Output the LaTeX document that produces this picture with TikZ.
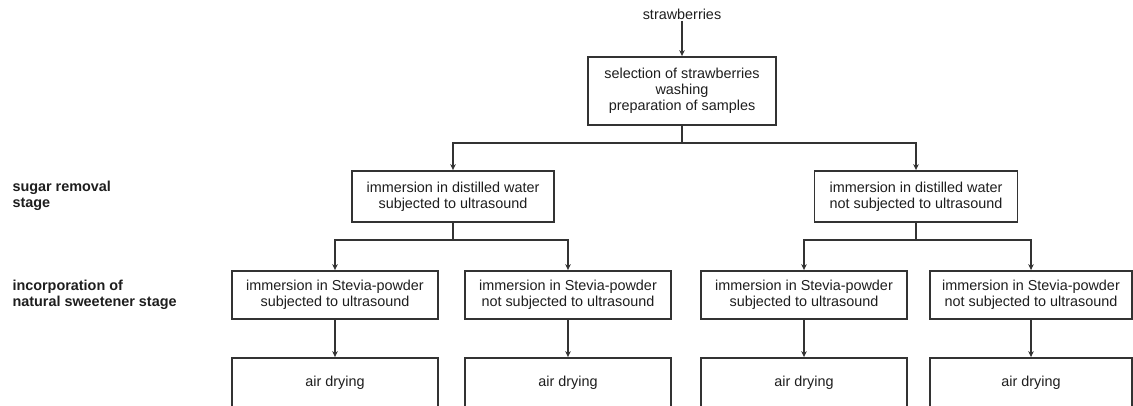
\documentclass[tikz,border=0pt]{standalone}
\usepackage{fontspec}
\setmainfont{Liberation Sans}
\usetikzlibrary{arrows.meta}
\definecolor{ln}{HTML}{333333}
\definecolor{tx}{HTML}{1E1E1E}
\tikzset{
  box/.style={draw=ln, line width=1.8pt, fill=white, align=center, text=tx,
    font=\fontsize{14.4}{16}\selectfont, inner sep=0pt, minimum width=206pt, minimum height=48pt},
  dry/.style={box, minimum height=56pt},
  conn/.style={draw=ln, line width=1.8pt},
  arr/.style={conn, -{Stealth[length=6pt,width=5.5pt]}},
  stagelabel/.style={anchor=west, align=left, text=tx, font=\fontsize{14.4}{16}\selectfont\bfseries},
}
\begin{document}
\begin{tikzpicture}[x=1pt,y=-1pt]
\useasboundingbox (0,0) rectangle (1133,405);
\clip (0,0) rectangle (1133,405);
\node[text=tx, font=\fontsize{14.4}{16}\selectfont, inner sep=2pt] (straw) at (682,14) {strawberries};
\node[box, minimum width=188pt, minimum height=68pt] (top) at (682,91)
  {selection of strawberries\\washing\\preparation of samples};
\node[box, minimum width=202pt, minimum height=51pt] (sugL) at (453,196.5)
  {immersion in distilled water\\subjected to ultrasound};
\node[box, minimum width=203pt, minimum height=51pt] (sugR) at (916,196.5)
  {immersion in distilled water\\not subjected to ultrasound};
\node[stagelabel] (lab1) at (9,196) {sugar removal\\stage};
\node[stagelabel] (lab2) at (9,295) {incorporation of\\natural sweetener stage};
\node[box] (b1) at (335,295) {immersion in Stevia-powder\\subjected to ultrasound};
\node[box] (b2) at (568,295) {immersion in Stevia-powder\\not subjected to ultrasound};
\node[box] (b3) at (804,295) {immersion in Stevia-powder\\subjected to ultrasound};
\node[box, minimum width=202pt] (b4) at (1031,295) {immersion in Stevia-powder\\not subjected to ultrasound};
\node[dry] (d1) at (335,386) {\raisebox{9pt}{air drying}};
\node[dry] (d2) at (568,386) {\raisebox{9pt}{air drying}};
\node[dry] (d3) at (804,386) {\raisebox{9pt}{air drying}};
\node[dry, minimum width=202pt] (d4) at (1031,386) {\raisebox{9pt}{air drying}};
\coordinate (j0) at (682,143);
\coordinate (j1) at (453,240);
\coordinate (j2) at (916,240);
\draw[arr] (straw.south) -- (top.north);
\draw[conn] (top.south) -- (j0);
\draw[arr] (j0) -| (sugL.north);
\draw[arr] (j0) -| (sugR.north);
\draw[conn] (sugL.south) -- (j1);
\draw[arr] (j1) -| (b1.north);
\draw[arr] (j1) -| (b2.north);
\draw[conn] (sugR.south) -- (j2);
\draw[arr] (j2) -| (b3.north);
\draw[arr] (j2) -| (b4.north);
\draw[arr] (b1.south) -- (d1.north);
\draw[arr] (b2.south) -- (d2.north);
\draw[arr] (b3.south) -- (d3.north);
\draw[arr] (b4.south) -- (d4.north);
\end{tikzpicture}
\end{document}
